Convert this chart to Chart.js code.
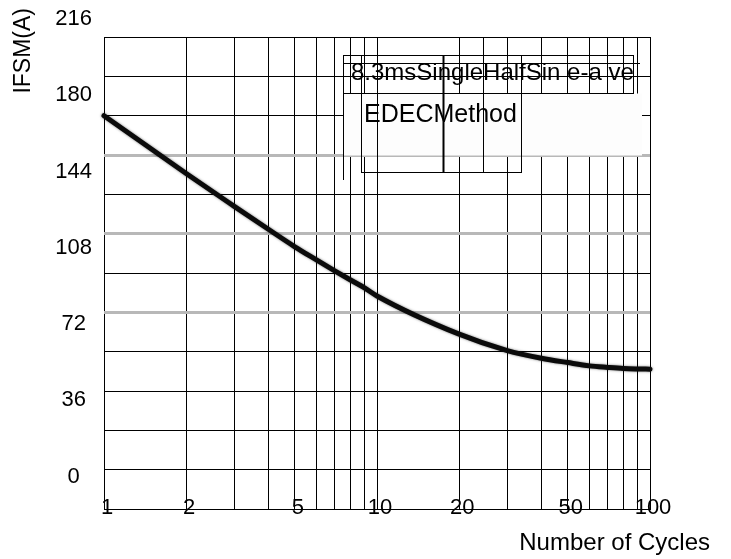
<!DOCTYPE html>
<html>
<head>
<meta charset="utf-8">
<script src="https://cdn.jsdelivr.net/npm/chart.js@4.4.1/dist/chart.umd.min.js"></script>
<style>
  html, body { margin: 0; padding: 0; background: #ffffff; }
  #wrap { width: 731px; height: 559px; }
</style>
</head>
<body>
<div id="wrap"><canvas id="c" width="731" height="559"></canvas></div>
<script>
// ---- data ----
const cycles = [1, 2, 3, 4, 5, 6, 7, 8, 9, 10, 20, 30, 40, 50, 60, 70, 80, 90, 100];
const ifsm   = [180, 153.5, 138.5, 128, 120, 114, 109, 104.8, 101.2, 97.5, 80, 72.5, 69, 67, 65.5, 64.8, 64.3, 64.1, 64];

const xGridValues = [1, 2, 3, 4, 5, 6, 7, 8, 9, 10, 20, 30, 40, 50, 60, 70, 80, 90, 100];
const xTickLabels = [1, 2, 5, 10, 20, 50, 100];
const yGridValues = [0, 18, 36, 54, 72, 90, 108, 126, 144, 162, 180, 198, 216];
const yGrayValues = [90, 126, 162];
const yTickLabels = [0, 36, 72, 108, 144, 180, 216];
const noteLines   = ['8.3msSingleHalfSin e-a ve', 'EDECMethod'];
const xTitleText  = 'Number of Cycles';
const yTitleText  = 'IFSM(A)';

const FONT = '"Liberation Sans", Arial, sans-serif';

// Shift the label axis and the x-title axis so their texts sit where the reference puts them
const axisExtent = {
  id: 'axisExtent',
  afterLayout(chart) {
    const a = chart.chartArea;
    const yl = chart.scales.yLabel;
    yl.top = a.top - 29;
    yl.configure();
    const xt = chart.scales.xTitle;
    xt.right = a.right + 60;
    xt.configure();
  }
};

// Note box (legend-like annotation) inside the plot
const noteBox = {
  id: 'noteBox',
  beforeDatasetsDraw(chart) {
    const { ctx, chartArea: a } = chart;
    const X = d => a.left + d;
    const Y = d => a.top + d;
    ctx.save();
    ctx.fillStyle = '#fdfdfd';
    ctx.fillRect(X(239), Y(56.5), 299, 62);
    ctx.strokeStyle = '#000';
    const seg = (x1, y1, x2, y2, w) => {
      ctx.lineWidth = w || 1;
      ctx.beginPath(); ctx.moveTo(x1, y1); ctx.lineTo(x2, y2); ctx.stroke();
    };
    seg(X(239.5), Y(18.5), X(530), Y(18.5));
    seg(X(239.5), Y(26.5), X(536), Y(26.5));
    seg(X(239.5), Y(56.5), X(530), Y(56.5));
    seg(X(239.5), Y(18), X(239.5), Y(143));
    seg(X(529.5), Y(18), X(529.5), Y(56.5));
    seg(X(257.5), Y(18), X(257.5), Y(135.5));
    seg(X(273.5), Y(0), X(273.5), Y(135.5));
    seg(X(339.5), Y(18), X(339.5), Y(135.5), 2);
    seg(X(379.5), Y(0), X(379.5), Y(135.5));
    seg(X(417.5), Y(18), X(417.5), Y(135.5));
    seg(X(257), Y(135.5), X(418), Y(135.5));
    ctx.fillStyle = '#000';
    ctx.textBaseline = 'alphabetic';
    ctx.textAlign = 'left';
    ctx.font = '24px ' + FONT;
    ctx.fillText(noteLines[0], X(247), Y(43));
    ctx.font = '25px ' + FONT;
    ctx.fillText(noteLines[1], X(260), Y(85));
    ctx.restore();
  },
  beforeDatasetDraw(chart) {
    const ctx = chart.ctx;
    ctx.save();
    ctx.shadowColor = 'rgba(0,0,0,0.55)';
    ctx.shadowBlur = 2.5;
  },
  afterDatasetDraw(chart) {
    chart.ctx.restore();
  }
};

new Chart(document.getElementById('c'), {
  type: 'line',
  data: {
    datasets: [{
      label: 'IFSM',
      data: cycles.map((c, i) => ({ x: c, y: ifsm[i] })),
      xAxisID: 'x',
      yAxisID: 'y',
      borderColor: '#0b0b0b',
      borderWidth: 5,
      borderCapStyle: 'round',
      pointRadius: 0,
      cubicInterpolationMode: 'monotone',
      fill: false,
      clip: 6
    }]
  },
  options: {
    responsive: false,
    animation: false,
    devicePixelRatio: 1,
    layout: { padding: { left: 0, right: 81, top: 37, bottom: 0 } },
    plugins: {
      legend: { display: false },
      tooltip: { enabled: false },
      title: { display: false }
    },
    scales: {
      x: {
        type: 'logarithmic',
        position: 'bottom',
        weight: 0,
        min: 1,
        max: 100,
        afterBuildTicks: s => { s.ticks = xGridValues.map(v => ({ value: v })); },
        afterFit: s => { s.height = 20; },
        grid: { color: '#000', lineWidth: 1, drawTicks: false },
        border: { display: true, color: '#000', width: 1 },
        ticks: {
          autoSkip: false, maxRotation: 0, minRotation: 0,
          mirror: true, padding: -12, labelOffset: 3, color: '#000',
          font: { family: FONT, size: 22 },
          callback: v => xTickLabels.includes(v) ? String(v) : ''
        }
      },
      xTitle: {
        type: 'linear',
        axis: 'x',
        position: 'bottom',
        weight: 1,
        display: true,
        grid: { display: false },
        border: { display: false },
        ticks: { display: false },
        afterFit: s => { s.height = 30; },
        title: {
          display: true, text: xTitleText, align: 'end', color: '#000',
          font: { family: FONT, size: 24 }, padding: { top: 0, bottom: 1 }
        }
      },
      y: {
        type: 'linear',
        position: 'left',
        weight: 0,
        min: 0,
        max: 216,
        afterBuildTicks: s => { s.ticks = yGridValues.map(v => ({ value: v })); },
        afterFit: s => { s.width = 0; },
        ticks: { display: false },
        border: { display: false },
        grid: {
          drawTicks: false,
          color: c => yGrayValues.includes(c.tick.value) ? '#b8b8b8' : '#000',
          lineWidth: c => yGrayValues.includes(c.tick.value) ? 3 : 1
        }
      },
      yLabel: {
        type: 'linear',
        axis: 'y',
        position: 'left',
        weight: 1,
        min: -15.3,
        max: 221.2,
        grid: { display: false },
        border: { display: false },
        afterBuildTicks: s => { s.ticks = yTickLabels.map(v => ({ value: v })); },
        afterFit: s => { s.width = 104; },
        ticks: {
          autoSkip: false, crossAlign: 'center', padding: 4, color: '#000',
          font: { family: FONT, size: 22 },
          callback: v => String(v)
        },
        title: {
          display: true, text: yTitleText, align: 'end', color: '#000',
          font: { family: FONT, size: 23 }, padding: { top: 10, bottom: 0 }
        }
      }
    }
  },
  plugins: [axisExtent, noteBox]
});
</script>
</body>
</html>
